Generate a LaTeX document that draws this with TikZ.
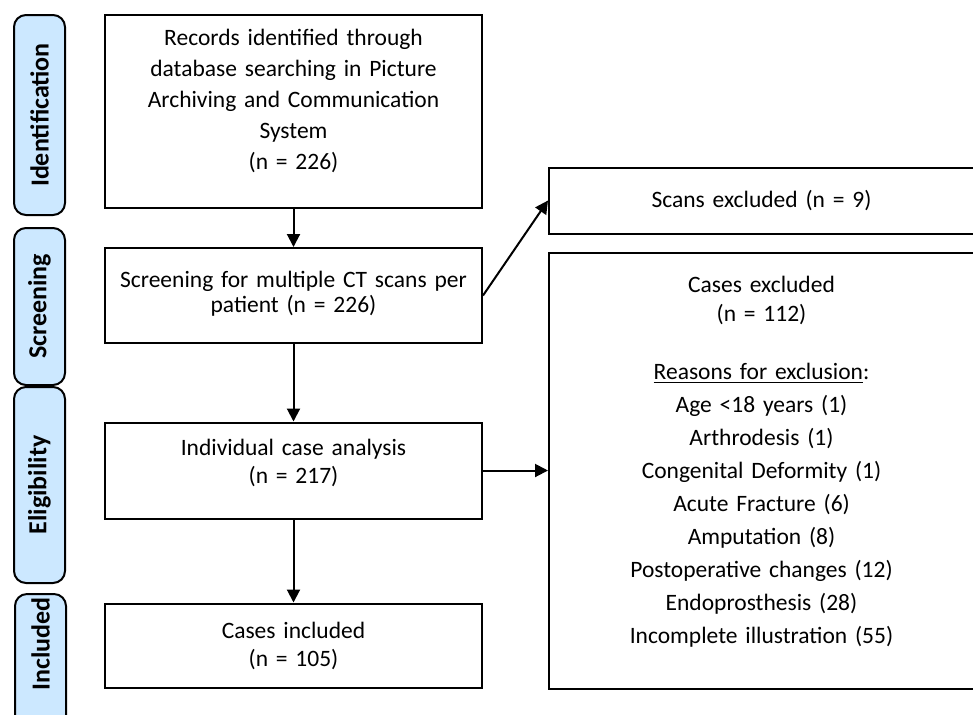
\documentclass[tikz,border=0pt]{standalone}
\usepackage{fontspec}
\setmainfont{Carlito}
\usepackage{tikz}
\usetikzlibrary{positioning}
\usetikzlibrary{arrows.meta}
\definecolor{phaseblue}{RGB}{204,232,255}
\tikzstyle{basicblock} = [rectangle, minimum width=188.5pt, text width=180pt, align=center, draw=black, line width=1pt, inner sep=0pt, font=\fontsize{11.75pt}{14pt}\selectfont]
\tikzstyle{sideblock} = [rectangle, minimum width=212.5pt, text width=200pt, align=center, draw=black, line width=1pt, inner sep=0pt, font=\fontsize{11.75pt}{16.5pt}\selectfont]
\tikzstyle{phase} = [rectangle, rounded corners=6pt, minimum height=25.5pt, inner sep=0pt, draw=black, line width=1pt, fill=phaseblue, rotate=90, font=\fontsize{13pt}{15pt}\selectfont\bfseries]
\tikzstyle{arrow} = [line width=1pt, -{Triangle[length=6.5pt,width=6.5pt]}]

\begin{document}
\begin{tikzpicture}[x=0.5pt, y=-0.5pt, node distance=87.5pt]

	\useasboundingbox (0,0) rectangle (973,714);
	\clip (0,0) rectangle (973,714);

% Phases

	\node (phaseIdent) [phase, minimum width=100pt] at (39.5,115) {Identification};
	\node (phaseScreen) [phase, minimum width=78.5pt] at (39.5,306.5) {Screening};
	\node (phaseElig) [phase, minimum width=98pt] at (39.5,485) {Eligibility};
	\node (phaseIncl) [phase, minimum width=73pt] at (40.5,667) {\hspace*{23pt}Included};


% Main column

	\node (records) [basicblock, minimum height=96.5pt, font=\fontsize{11.75pt}{15.5pt}\selectfont] at (293.5,111.5) {Records identified through\\ database searching in Picture\\ Archiving and Communication\\ System\\ (n = 226)\\[-3pt] \mbox{}};

	\node (screening) [basicblock, below of=records, yshift=-4.5pt, minimum height=47.5pt, font=\fontsize{11.75pt}{12.5pt}\selectfont] {\mbox{}\\[-6.5pt] Screening for multiple CT scans per\\ patient (n = 226)};

	\node (analysis) [basicblock, below of=screening, minimum height=48pt] {Individual case analysis\\ (n = 217)\\[-4.5pt] \mbox{}};

	\node (included) [basicblock, below of=analysis, minimum height=42pt] {Cases included\\ (n = 105)};


% Exclusions

	\node (excluded) [sideblock, right=32.5pt of analysis, minimum height=218pt] {Cases excluded\\[-2pt] (n = 112)\\[12.5pt] \underline{Reasons for exclusion}:\\ Age <18 years (1)\\ Arthrodesis (1)\\ Congenital Deformity (1)\\ Acute Fracture (6)\\ Amputation (8)\\ Postoperative changes (12)\\ Endoprosthesis (28)\\ Incomplete illustration (55)\\[-5.5pt] \mbox{}};

	\node (scans) [sideblock, above=8.5pt of excluded, minimum height=33pt] {Scans excluded (n = 9)};


% Flow arrows

	\draw [arrow] (records) -- (screening);
	\draw [arrow] (screening) -- (analysis);
	\draw [arrow] (analysis) -- (included);

	\draw [arrow] (screening.east) -- (scans.west);
	\draw [arrow] (analysis.east) -- (excluded.west);

\end{tikzpicture}
\end{document}
